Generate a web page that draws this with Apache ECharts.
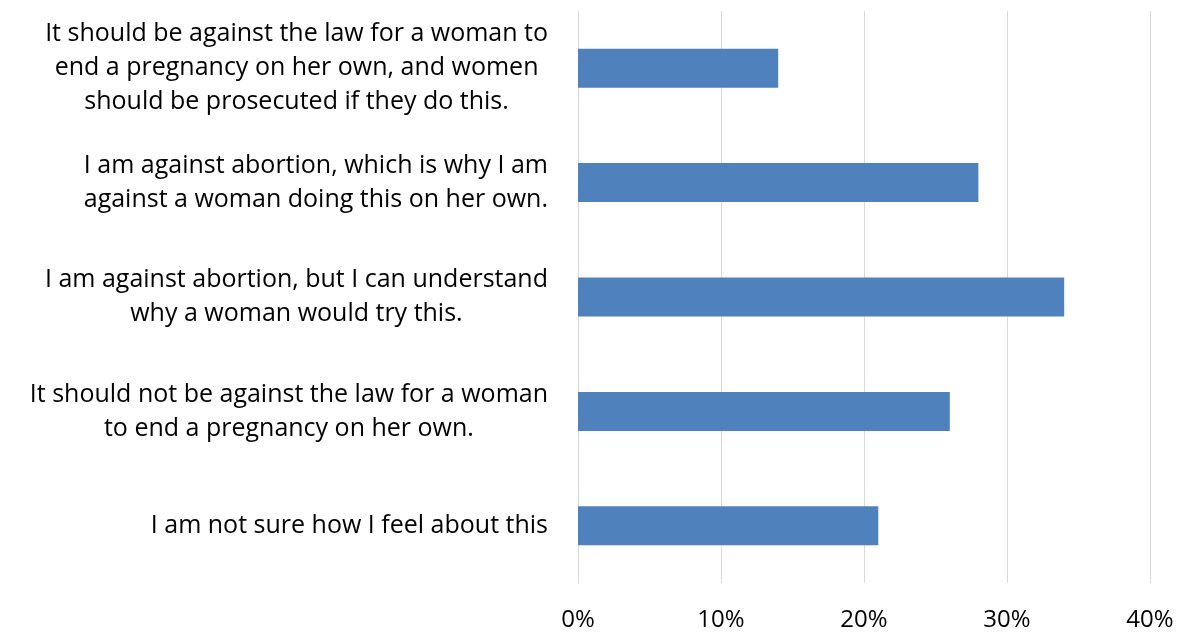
<!DOCTYPE html>
<html>
<head>
<meta charset="utf-8">
<script src="https://cdn.jsdelivr.net/npm/echarts@6/dist/echarts.min.js"></script>
<style>html,body{margin:0;padding:0;background:#fff}#c{width:1184px;height:632px}</style>
</head>
<body>
<div id="c"></div>
<script>
const categories = [
  "It should be against the law for a woman to\nend a pregnancy on her own, and women\nshould be prosecuted if they do this.",
  "I am against abortion, which is why I am\nagainst a woman doing this on her own.",
  "I am against abortion, but I can understand\nwhy a woman would try this.",
  "It should not be against the law for a woman\nto end a pregnancy on her own.",
  "I am not sure how I feel about this"
];
const values = [14, 28, 34, 26, 21];
const xTicks = [0, 10, 20, 30, 40];

const chart = echarts.init(document.getElementById('c'));
const FONT = 'Open Sans';
chart.setOption({
  animation: false,
  grid: { left: 578, right: 34, top: 11, bottom: 49, containLabel: false },
  xAxis: {
    type: 'value', min: 0, max: 40, interval: 10,
    axisLine: { show: false }, axisTick: { show: false },
    splitLine: { show: true, lineStyle: { color: '#d9d9d9', width: 1 } },
    axisLabel: { color: '#000', fontFamily: FONT, fontSize: 24, margin: 25,
      formatter: v => xTicks.includes(v) ? v + '%' : '' }
  },
  yAxis: {
    type: 'category', data: categories, inverse: true,
    axisLine: { show: true, lineStyle: { color: '#d9d9d9' } }, axisTick: { show: false },
    axisLabel: {
      margin: 30, color: '#000', fontFamily: FONT, fontSize: 25, lineHeight: 34,
      formatter: s => s.split('\n').map(l => '{c|' + l + '}').join('\n'),
      rich: { c: { align: 'center', fontFamily: FONT, fontSize: 25, lineHeight: 34, color: '#000' } }
    }
  },
  series: [{
    type: 'bar', data: values, barWidth: 39,
    itemStyle: { color: '#4f81bd' }
  }]
});
</script>
</body>
</html>
